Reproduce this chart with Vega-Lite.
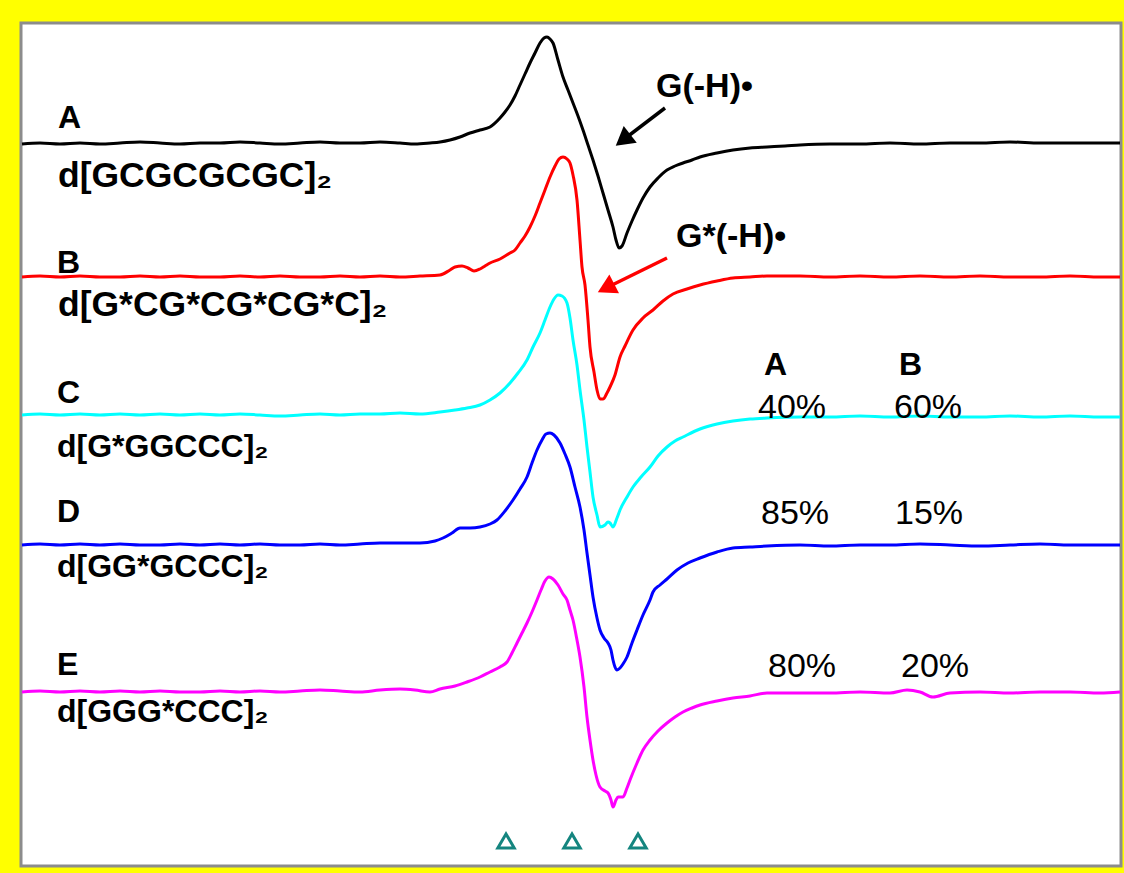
{
"$schema": "https://vega.github.io/schema/vega-lite/v6.json",
"width": 1100, "height": 843,
"autosize": {"type": "none"},
"padding": {"left": 21, "top": 23, "right": 3, "bottom": 7},
"background": "#ffff00",
"config": {"view": {"stroke": "#8c8c8c", "strokeWidth": 3, "fill": "#ffffff"}},
"datasets": {
"spectra": [
{"s":"A","x":22,"y":722},{"s":"A","x":40,"y":723},{"s":"A","x":60,"y":722},{"s":"A","x":80,"y":723},{"s":"A","x":100,"y":722},{"s":"A","x":120,"y":723},{"s":"A","x":140,"y":724},{"s":"A","x":160,"y":723},{"s":"A","x":180,"y":722},{"s":"A","x":200,"y":723},{"s":"A","x":220,"y":723},{"s":"A","x":240,"y":724},{"s":"A","x":260,"y":723},{"s":"A","x":280,"y":722},{"s":"A","x":300,"y":723},{"s":"A","x":320,"y":724},{"s":"A","x":340,"y":723},{"s":"A","x":360,"y":723},{"s":"A","x":380,"y":724},{"s":"A","x":400,"y":723},{"s":"A","x":415,"y":722},{"s":"A","x":430,"y":723},{"s":"A","x":440,"y":724},{"s":"A","x":450,"y":726},{"s":"A","x":460,"y":729},{"s":"A","x":470,"y":733},{"s":"A","x":480,"y":736},{"s":"A","x":490,"y":739},{"s":"A","x":500,"y":748},{"s":"A","x":505,"y":754},{"s":"A","x":510,"y":761},{"s":"A","x":515,"y":770},{"s":"A","x":520,"y":781},{"s":"A","x":525,"y":792},{"s":"A","x":530,"y":803},{"s":"A","x":535,"y":813},{"s":"A","x":540,"y":823},{"s":"A","x":544,"y":828},{"s":"A","x":547,"y":829},{"s":"A","x":550,"y":827},{"s":"A","x":553,"y":823},{"s":"A","x":558,"y":806},{"s":"A","x":563,"y":789},{"s":"A","x":568,"y":776},{"s":"A","x":573,"y":763},{"s":"A","x":578,"y":750},{"s":"A","x":583,"y":736},{"s":"A","x":588,"y":721},{"s":"A","x":593,"y":706},{"s":"A","x":598,"y":690},{"s":"A","x":603,"y":673},{"s":"A","x":608,"y":656},{"s":"A","x":613,"y":639},{"s":"A","x":616,"y":626},{"s":"A","x":619,"y":618},{"s":"A","x":622,"y":620},{"s":"A","x":627,"y":633},{"s":"A","x":632,"y":645},{"s":"A","x":637,"y":656},{"s":"A","x":643,"y":668},{"s":"A","x":650,"y":679},{"s":"A","x":658,"y":688},{"s":"A","x":667,"y":696},{"s":"A","x":675,"y":700},{"s":"A","x":683,"y":703},{"s":"A","x":692,"y":706},{"s":"A","x":700,"y":709},{"s":"A","x":717,"y":713},{"s":"A","x":733,"y":716},{"s":"A","x":750,"y":718},{"s":"A","x":767,"y":719},{"s":"A","x":785,"y":720},{"s":"A","x":800,"y":721},{"s":"A","x":830,"y":722},{"s":"A","x":860,"y":722},{"s":"A","x":890,"y":723},{"s":"A","x":920,"y":722},{"s":"A","x":950,"y":723},{"s":"A","x":980,"y":723},{"s":"A","x":1010,"y":724},{"s":"A","x":1040,"y":723},{"s":"A","x":1070,"y":723},{"s":"A","x":1100,"y":723},{"s":"A","x":1120,"y":723},
{"s":"B","x":22,"y":589},{"s":"B","x":40,"y":590},{"s":"B","x":60,"y":589},{"s":"B","x":80,"y":590},{"s":"B","x":100,"y":589},{"s":"B","x":120,"y":589},{"s":"B","x":140,"y":590},{"s":"B","x":160,"y":589},{"s":"B","x":180,"y":590},{"s":"B","x":200,"y":589},{"s":"B","x":220,"y":589},{"s":"B","x":240,"y":590},{"s":"B","x":260,"y":589},{"s":"B","x":280,"y":590},{"s":"B","x":300,"y":589},{"s":"B","x":320,"y":589},{"s":"B","x":340,"y":590},{"s":"B","x":360,"y":589},{"s":"B","x":380,"y":590},{"s":"B","x":400,"y":589},{"s":"B","x":420,"y":590},{"s":"B","x":440,"y":591},{"s":"B","x":450,"y":596},{"s":"B","x":455,"y":599},{"s":"B","x":462,"y":600},{"s":"B","x":468,"y":598},{"s":"B","x":474,"y":595},{"s":"B","x":480,"y":597},{"s":"B","x":485,"y":600},{"s":"B","x":490,"y":603},{"s":"B","x":500,"y":607},{"s":"B","x":510,"y":613},{"s":"B","x":515,"y":616},{"s":"B","x":520,"y":623},{"s":"B","x":525,"y":630},{"s":"B","x":530,"y":639},{"s":"B","x":535,"y":650},{"s":"B","x":540,"y":663},{"s":"B","x":545,"y":676},{"s":"B","x":550,"y":689},{"s":"B","x":555,"y":700},{"s":"B","x":559,"y":707},{"s":"B","x":563,"y":709},{"s":"B","x":567,"y":707},{"s":"B","x":570,"y":703},{"s":"B","x":573,"y":691},{"s":"B","x":577,"y":666},{"s":"B","x":580,"y":626},{"s":"B","x":582,"y":599},{"s":"B","x":585,"y":581},{"s":"B","x":588,"y":546},{"s":"B","x":590,"y":519},{"s":"B","x":594,"y":494},{"s":"B","x":597,"y":476},{"s":"B","x":600,"y":467},{"s":"B","x":603,"y":467},{"s":"B","x":607,"y":473},{"s":"B","x":610,"y":479},{"s":"B","x":615,"y":491},{"s":"B","x":620,"y":509},{"s":"B","x":625,"y":520},{"s":"B","x":633,"y":536},{"s":"B","x":643,"y":548},{"s":"B","x":653,"y":556},{"s":"B","x":663,"y":565},{"s":"B","x":673,"y":572},{"s":"B","x":687,"y":577},{"s":"B","x":700,"y":581},{"s":"B","x":717,"y":585},{"s":"B","x":733,"y":588},{"s":"B","x":750,"y":589},{"s":"B","x":767,"y":590},{"s":"B","x":800,"y":590},{"s":"B","x":830,"y":589},{"s":"B","x":860,"y":590},{"s":"B","x":890,"y":589},{"s":"B","x":920,"y":590},{"s":"B","x":950,"y":589},{"s":"B","x":980,"y":590},{"s":"B","x":1010,"y":589},{"s":"B","x":1040,"y":589},{"s":"B","x":1070,"y":590},{"s":"B","x":1100,"y":589},{"s":"B","x":1120,"y":589},
{"s":"C","x":22,"y":451},{"s":"C","x":40,"y":452},{"s":"C","x":60,"y":451},{"s":"C","x":80,"y":452},{"s":"C","x":100,"y":451},{"s":"C","x":120,"y":452},{"s":"C","x":140,"y":451},{"s":"C","x":160,"y":452},{"s":"C","x":180,"y":451},{"s":"C","x":200,"y":452},{"s":"C","x":220,"y":451},{"s":"C","x":240,"y":452},{"s":"C","x":260,"y":451},{"s":"C","x":280,"y":450},{"s":"C","x":300,"y":451},{"s":"C","x":320,"y":452},{"s":"C","x":340,"y":451},{"s":"C","x":360,"y":452},{"s":"C","x":380,"y":452},{"s":"C","x":400,"y":453},{"s":"C","x":420,"y":452},{"s":"C","x":440,"y":454},{"s":"C","x":455,"y":456},{"s":"C","x":467,"y":458},{"s":"C","x":480,"y":461},{"s":"C","x":490,"y":466},{"s":"C","x":500,"y":473},{"s":"C","x":510,"y":483},{"s":"C","x":518,"y":493},{"s":"C","x":527,"y":506},{"s":"C","x":533,"y":519},{"s":"C","x":540,"y":533},{"s":"C","x":545,"y":546},{"s":"C","x":550,"y":559},{"s":"C","x":554,"y":567},{"s":"C","x":558,"y":571},{"s":"C","x":562,"y":570},{"s":"C","x":567,"y":563},{"s":"C","x":570,"y":548},{"s":"C","x":573,"y":526},{"s":"C","x":577,"y":501},{"s":"C","x":580,"y":476},{"s":"C","x":584,"y":446},{"s":"C","x":587,"y":419},{"s":"C","x":590,"y":394},{"s":"C","x":593,"y":369},{"s":"C","x":597,"y":351},{"s":"C","x":600,"y":339},{"s":"C","x":605,"y":341},{"s":"C","x":608,"y":344},{"s":"C","x":610,"y":343},{"s":"C","x":613,"y":339},{"s":"C","x":617,"y":348},{"s":"C","x":620,"y":356},{"s":"C","x":627,"y":369},{"s":"C","x":633,"y":379},{"s":"C","x":641,"y":389},{"s":"C","x":650,"y":399},{"s":"C","x":658,"y":410},{"s":"C","x":667,"y":419},{"s":"C","x":675,"y":425},{"s":"C","x":683,"y":429},{"s":"C","x":700,"y":437},{"s":"C","x":717,"y":442},{"s":"C","x":733,"y":445},{"s":"C","x":750,"y":447},{"s":"C","x":767,"y":448},{"s":"C","x":800,"y":449},{"s":"C","x":830,"y":449},{"s":"C","x":860,"y":450},{"s":"C","x":890,"y":449},{"s":"C","x":920,"y":450},{"s":"C","x":950,"y":449},{"s":"C","x":980,"y":449},{"s":"C","x":1010,"y":450},{"s":"C","x":1040,"y":449},{"s":"C","x":1070,"y":450},{"s":"C","x":1100,"y":449},{"s":"C","x":1120,"y":449},
{"s":"D","x":22,"y":321},{"s":"D","x":40,"y":322},{"s":"D","x":60,"y":321},{"s":"D","x":80,"y":322},{"s":"D","x":100,"y":321},{"s":"D","x":120,"y":322},{"s":"D","x":140,"y":321},{"s":"D","x":160,"y":321},{"s":"D","x":180,"y":322},{"s":"D","x":200,"y":321},{"s":"D","x":220,"y":322},{"s":"D","x":240,"y":321},{"s":"D","x":260,"y":322},{"s":"D","x":280,"y":321},{"s":"D","x":300,"y":321},{"s":"D","x":320,"y":322},{"s":"D","x":340,"y":321},{"s":"D","x":360,"y":322},{"s":"D","x":380,"y":323},{"s":"D","x":400,"y":323},{"s":"D","x":420,"y":323},{"s":"D","x":435,"y":325},{"s":"D","x":443,"y":328},{"s":"D","x":452,"y":333},{"s":"D","x":460,"y":338},{"s":"D","x":470,"y":338},{"s":"D","x":480,"y":339},{"s":"D","x":490,"y":342},{"s":"D","x":497,"y":346},{"s":"D","x":505,"y":355},{"s":"D","x":513,"y":366},{"s":"D","x":520,"y":377},{"s":"D","x":527,"y":389},{"s":"D","x":532,"y":403},{"s":"D","x":537,"y":416},{"s":"D","x":542,"y":426},{"s":"D","x":546,"y":432},{"s":"D","x":550,"y":433},{"s":"D","x":554,"y":431},{"s":"D","x":560,"y":423},{"s":"D","x":565,"y":412},{"s":"D","x":570,"y":399},{"s":"D","x":575,"y":379},{"s":"D","x":580,"y":359},{"s":"D","x":584,"y":336},{"s":"D","x":587,"y":313},{"s":"D","x":590,"y":291},{"s":"D","x":593,"y":269},{"s":"D","x":597,"y":248},{"s":"D","x":600,"y":236},{"s":"D","x":604,"y":228},{"s":"D","x":608,"y":223},{"s":"D","x":611,"y":216},{"s":"D","x":613,"y":206},{"s":"D","x":615,"y":199},{"s":"D","x":617,"y":196},{"s":"D","x":620,"y":198},{"s":"D","x":623,"y":202},{"s":"D","x":627,"y":209},{"s":"D","x":632,"y":223},{"s":"D","x":637,"y":236},{"s":"D","x":643,"y":251},{"s":"D","x":650,"y":266},{"s":"D","x":653,"y":274},{"s":"D","x":660,"y":281},{"s":"D","x":667,"y":287},{"s":"D","x":677,"y":296},{"s":"D","x":688,"y":303},{"s":"D","x":700,"y":308},{"s":"D","x":717,"y":314},{"s":"D","x":733,"y":318},{"s":"D","x":750,"y":319},{"s":"D","x":767,"y":320},{"s":"D","x":800,"y":321},{"s":"D","x":830,"y":320},{"s":"D","x":860,"y":321},{"s":"D","x":890,"y":321},{"s":"D","x":920,"y":322},{"s":"D","x":950,"y":321},{"s":"D","x":980,"y":320},{"s":"D","x":1010,"y":321},{"s":"D","x":1040,"y":322},{"s":"D","x":1070,"y":321},{"s":"D","x":1100,"y":321},{"s":"D","x":1120,"y":321},
{"s":"E","x":22,"y":174},{"s":"E","x":40,"y":175},{"s":"E","x":60,"y":174},{"s":"E","x":80,"y":175},{"s":"E","x":100,"y":174},{"s":"E","x":120,"y":175},{"s":"E","x":140,"y":174},{"s":"E","x":160,"y":175},{"s":"E","x":180,"y":174},{"s":"E","x":200,"y":174},{"s":"E","x":220,"y":175},{"s":"E","x":240,"y":174},{"s":"E","x":260,"y":175},{"s":"E","x":280,"y":174},{"s":"E","x":300,"y":175},{"s":"E","x":320,"y":176},{"s":"E","x":340,"y":175},{"s":"E","x":360,"y":174},{"s":"E","x":380,"y":176},{"s":"E","x":400,"y":177},{"s":"E","x":415,"y":176},{"s":"E","x":430,"y":174},{"s":"E","x":440,"y":177},{"s":"E","x":455,"y":180},{"s":"E","x":467,"y":184},{"s":"E","x":480,"y":189},{"s":"E","x":490,"y":194},{"s":"E","x":500,"y":199},{"s":"E","x":507,"y":204},{"s":"E","x":512,"y":213},{"s":"E","x":517,"y":223},{"s":"E","x":522,"y":233},{"s":"E","x":527,"y":243},{"s":"E","x":532,"y":254},{"s":"E","x":537,"y":266},{"s":"E","x":541,"y":276},{"s":"E","x":545,"y":285},{"s":"E","x":549,"y":289},{"s":"E","x":553,"y":287},{"s":"E","x":558,"y":281},{"s":"E","x":563,"y":272},{"s":"E","x":567,"y":266},{"s":"E","x":570,"y":256},{"s":"E","x":573,"y":246},{"s":"E","x":577,"y":226},{"s":"E","x":580,"y":209},{"s":"E","x":584,"y":179},{"s":"E","x":587,"y":149},{"s":"E","x":590,"y":126},{"s":"E","x":593,"y":106},{"s":"E","x":596,"y":91},{"s":"E","x":600,"y":79},{"s":"E","x":605,"y":75},{"s":"E","x":608,"y":73},{"s":"E","x":611,"y":66},{"s":"E","x":613,"y":59},{"s":"E","x":616,"y":66},{"s":"E","x":618,"y":69},{"s":"E","x":623,"y":69},{"s":"E","x":627,"y":78},{"s":"E","x":630,"y":86},{"s":"E","x":637,"y":103},{"s":"E","x":643,"y":116},{"s":"E","x":650,"y":126},{"s":"E","x":658,"y":135},{"s":"E","x":667,"y":143},{"s":"E","x":675,"y":149},{"s":"E","x":683,"y":154},{"s":"E","x":692,"y":158},{"s":"E","x":700,"y":161},{"s":"E","x":717,"y":165},{"s":"E","x":733,"y":168},{"s":"E","x":750,"y":170},{"s":"E","x":767,"y":173},{"s":"E","x":800,"y":173},{"s":"E","x":830,"y":173},{"s":"E","x":860,"y":174},{"s":"E","x":890,"y":173},{"s":"E","x":907,"y":176},{"s":"E","x":920,"y":174},{"s":"E","x":933,"y":169},{"s":"E","x":950,"y":173},{"s":"E","x":980,"y":174},{"s":"E","x":1010,"y":173},{"s":"E","x":1040,"y":174},{"s":"E","x":1070,"y":174},{"s":"E","x":1100,"y":173},{"s":"E","x":1120,"y":174}
],
"labels": [
{"t":"A","x":58,"y":738,"k":"letter"},
{"t":"d[GCGCGCGC]₂","x":58,"y":679,"k":"seq"},
{"t":"B","x":57,"y":593,"k":"letter"},
{"t":"d[G*CG*CG*CG*C]₂","x":58,"y":550,"k":"seq"},
{"t":"C","x":57,"y":463,"k":"letter"},
{"t":"d[G*GGCCC]₂","x":57,"y":409,"k":"seq2"},
{"t":"D","x":57,"y":344,"k":"letter"},
{"t":"d[GG*GCCC]₂","x":57,"y":289,"k":"seq2"},
{"t":"E","x":57,"y":191,"k":"letter"},
{"t":"d[GGG*CCC]₂","x":57,"y":144,"k":"seq2"},
{"t":"G(-H)•","x":656,"y":769,"k":"radical"},
{"t":"G*(-H)•","x":676,"y":619,"k":"radical"},
{"t":"A","x":764,"y":491,"k":"letter"},
{"t":"B","x":899,"y":491,"k":"letter"},
{"t":"40%","x":758,"y":448,"k":"pct"},
{"t":"60%","x":894,"y":448,"k":"pct"},
{"t":"85%","x":761,"y":342,"k":"pct"},
{"t":"15%","x":895,"y":342,"k":"pct"},
{"t":"80%","x":768,"y":189,"k":"pct"},
{"t":"20%","x":901,"y":189,"k":"pct"}
],
"arrows": [
{"a":"G(-H)•","x":665,"y":758,"x2":623,"y2":726},
{"a":"G*(-H)•","x":667,"y":608,"x2":606,"y2":578}
],
"markers": [
{"x":506,"y":25},{"x":572,"y":25},{"x":638,"y":25}
]
},
"layer": [
{"data":{"name":"spectra"},
 "mark":{"type":"line","strokeWidth":3,"interpolate":"monotone"},
 "encoding":{
  "x":{"field":"x","type":"quantitative","scale":{"domain":[21,1121],"nice":false,"zero":false},"axis":null},
  "y":{"field":"y","type":"quantitative","scale":{"domain":[0,843],"nice":false,"zero":false},"axis":null},
  "color":{"field":"s","type":"nominal","scale":{"domain":["A","B","C","D","E"],"range":["#000000","#ff0000","#00ffff","#0000ff","#ff00ff"]},"legend":null}
 }},
{"data":{"name":"arrows"},
 "mark":{"type":"rule","strokeWidth":3.5},
 "encoding":{
  "x":{"field":"x","type":"quantitative","scale":{"domain":[21,1121],"nice":false,"zero":false},"axis":null},
  "y":{"field":"y","type":"quantitative","scale":{"domain":[0,843],"nice":false,"zero":false},"axis":null},
  "x2":{"field":"x2"},"y2":{"field":"y2"},
  "color":{"field":"a","type":"nominal","scale":{"domain":["G(-H)•","G*(-H)•"],"range":["#000000","#ff0000"]},"legend":null}
 }},
{"data":{"name":"arrows"},
 "transform":[{"filter":"datum.a == 'G(-H)•'"}],
 "mark":{"type":"point","shape":"triangle-up","filled":true,"opacity":1,"size":450,"angle":232,"color":"#000000"},
 "encoding":{
  "x":{"field":"x2","type":"quantitative","scale":{"domain":[21,1121],"nice":false,"zero":false},"axis":null},
  "y":{"field":"y2","type":"quantitative","scale":{"domain":[0,843],"nice":false,"zero":false},"axis":null}
 }},
{"data":{"name":"arrows"},
 "transform":[{"filter":"datum.a == 'G*(-H)•'"}],
 "mark":{"type":"point","shape":"triangle-up","filled":true,"opacity":1,"size":450,"angle":243,"color":"#ff0000"},
 "encoding":{
  "x":{"field":"x2","type":"quantitative","scale":{"domain":[21,1121],"nice":false,"zero":false},"axis":null},
  "y":{"field":"y2","type":"quantitative","scale":{"domain":[0,843],"nice":false,"zero":false},"axis":null}
 }},
{"data":{"name":"markers"},
 "mark":{"type":"point","shape":"triangle-up","filled":false,"opacity":1,"size":270,"strokeWidth":3,"color":"#14857f"},
 "encoding":{
  "x":{"field":"x","type":"quantitative","scale":{"domain":[21,1121],"nice":false,"zero":false},"axis":null},
  "y":{"field":"y","type":"quantitative","scale":{"domain":[0,843],"nice":false,"zero":false},"axis":null}
 }},
{"data":{"name":"labels"},
 "transform":[{"filter":"datum.k == 'letter'"}],
 "mark":{"type":"text","align":"left","baseline":"alphabetic","font":"Liberation Sans","fontSize":32,"fontWeight":"bold","color":"#000000"},
 "encoding":{
  "x":{"field":"x","type":"quantitative","scale":{"domain":[21,1121],"nice":false,"zero":false},"axis":null},
  "y":{"field":"y","type":"quantitative","scale":{"domain":[0,843],"nice":false,"zero":false},"axis":null},
  "text":{"field":"t"}
 }},
{"data":{"name":"labels"},
 "transform":[{"filter":"datum.k == 'seq'"}],
 "mark":{"type":"text","align":"left","baseline":"alphabetic","font":"Liberation Sans","fontSize":35.5,"fontWeight":"bold","color":"#000000"},
 "encoding":{
  "x":{"field":"x","type":"quantitative","scale":{"domain":[21,1121],"nice":false,"zero":false},"axis":null},
  "y":{"field":"y","type":"quantitative","scale":{"domain":[0,843],"nice":false,"zero":false},"axis":null},
  "text":{"field":"t"}
 }},
{"data":{"name":"labels"},
 "transform":[{"filter":"datum.k == 'seq2'"}],
 "mark":{"type":"text","align":"left","baseline":"alphabetic","font":"Liberation Sans","fontSize":32,"fontWeight":"bold","color":"#000000"},
 "encoding":{
  "x":{"field":"x","type":"quantitative","scale":{"domain":[21,1121],"nice":false,"zero":false},"axis":null},
  "y":{"field":"y","type":"quantitative","scale":{"domain":[0,843],"nice":false,"zero":false},"axis":null},
  "text":{"field":"t"}
 }},
{"data":{"name":"labels"},
 "transform":[{"filter":"datum.k == 'radical'"}],
 "mark":{"type":"text","align":"left","baseline":"alphabetic","font":"Liberation Sans","fontSize":34,"fontWeight":"bold","color":"#000000"},
 "encoding":{
  "x":{"field":"x","type":"quantitative","scale":{"domain":[21,1121],"nice":false,"zero":false},"axis":null},
  "y":{"field":"y","type":"quantitative","scale":{"domain":[0,843],"nice":false,"zero":false},"axis":null},
  "text":{"field":"t"}
 }},
{"data":{"name":"labels"},
 "transform":[{"filter":"datum.k == 'pct'"}],
 "mark":{"type":"text","align":"left","baseline":"alphabetic","font":"Liberation Sans","fontSize":34,"fontWeight":"normal","color":"#000000"},
 "encoding":{
  "x":{"field":"x","type":"quantitative","scale":{"domain":[21,1121],"nice":false,"zero":false},"axis":null},
  "y":{"field":"y","type":"quantitative","scale":{"domain":[0,843],"nice":false,"zero":false},"axis":null},
  "text":{"field":"t"}
 }}
]
}
